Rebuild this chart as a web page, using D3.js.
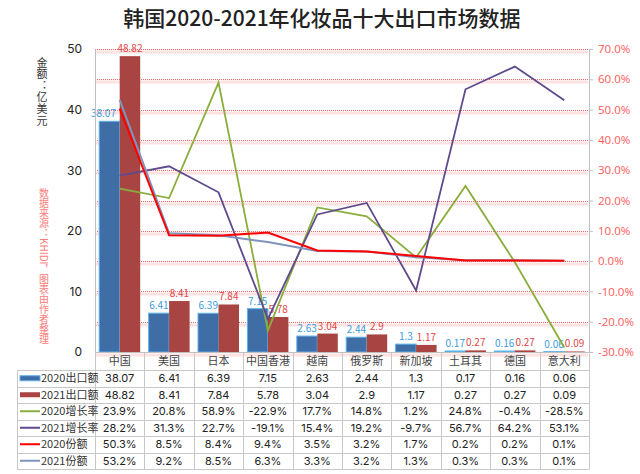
<!DOCTYPE html>
<html><head><meta charset="utf-8">
<script src="https://cdn.jsdelivr.net/npm/d3@7"></script>
<style>body{margin:0;background:#fff;}svg{display:block;font-family:"Noto Sans CJK SC","Noto Sans",sans-serif;}</style>
</head><body>
<svg id="c" width="640" height="474"></svg>
<script>
const categories = ['中国','美国','日本','中国香港','越南','俄罗斯','新加坡','土耳其','德国','意大利'];
const export2020 = [38.07,6.41,6.39,7.15,2.63,2.44,1.3,0.17,0.16,0.06];
const export2021 = [48.82,8.41,7.84,5.78,3.04,2.9,1.17,0.27,0.27,0.09];
const growth2020 = [23.9,20.8,58.9,-22.9,17.7,14.8,1.2,24.8,-0.4,-28.5];
const growth2021 = [28.2,31.3,22.7,-19.1,15.4,19.2,-9.7,56.7,64.2,53.1];
const share2020 = [50.3,8.5,8.4,9.4,3.5,3.2,1.7,0.2,0.2,0.1];
const share2021 = [53.2,9.2,8.5,6.3,3.3,3.2,1.3,0.3,0.3,0.1];
const leftTicks = [0,10,20,30,40,50];
const rightTicks = [-30,-20,-10,0,10,20,30,40,50,60,70];
const seriesNames = ['2020出口额','2021出口额','2020增长率','2021增长率','2020份额','2021份额'];

const svg = d3.select('#c');
const L = 95, R = 589, T = 49, B = 352;
const x = d3.scaleBand().domain(categories).range([L, R]);
const yL = d3.scaleLinear().domain([0, 50]).range([B, T]);
const yR = d3.scaleLinear().domain([-30, 70]).range([B, T]);

// title
svg.append('text').attr('x', 322).attr('y', 26).attr('text-anchor', 'middle')
  .attr('font-size', 21).attr('font-weight', 500).attr('fill', '#222')
  .text('韩国2020-2021年化妆品十大出口市场数据');

// gridlines
const g = svg.append('g');
rightTicks.forEach(v => {
  const yy = Math.round(yR(v)) + 0.5;
  g.append('rect').attr('x', L + 1).attr('y', yy + 1).attr('width', R - L - 2).attr('height', 3).attr('fill', '#fde2e2');
  g.append('line').attr('x1', L).attr('x2', R).attr('y1', yy).attr('y2', yy)
    .attr('stroke', '#f06a6a').attr('stroke-width', 1).attr('stroke-dasharray', '1,1');
});

// bars
const bw = 20.5;
const bars = svg.append('g');
categories.forEach((c, i) => {
  const cx = x(c) + x.bandwidth() / 2;
  bars.append('rect').attr('x', cx - bw).attr('y', yL(export2020[i])).attr('width', bw)
    .attr('height', B - yL(export2020[i])).attr('fill', '#3f6da6').attr('stroke', '#5cb3ea').attr('stroke-width', 1);
  bars.append('rect').attr('x', cx).attr('y', yL(export2021[i])).attr('width', bw)
    .attr('height', B - yL(export2021[i])).attr('fill', '#a84543');
  svg.append('text').attr('x', cx - bw / 2 - (i === 0 ? 6 : 0)).attr('y', yL(export2020[i]) - 4).attr('text-anchor', 'middle')
    .attr('font-size', 10).attr('fill', '#3d9be0').text(export2020[i]);
  svg.append('text').attr('x', cx + bw / 2).attr('y', yL(export2021[i]) - 4).attr('text-anchor', 'middle')
    .attr('font-size', 10).attr('fill', '#e04646').text(export2021[i]);
});

// lines
const lineGen = d3.line().x((d, i) => x(categories[i]) + x.bandwidth() / 2).y(d => yR(d));
const lineSeries = [
  {d: growth2020, c: '#8aae3c', w: 1.8},
  {d: growth2021, c: '#5f4a8e', w: 1.8},
  {d: share2021, c: '#7f93bb', w: 2},
  {d: share2020, c: '#ff0000', w: 2},
];
lineSeries.forEach(s => {
  svg.append('path').attr('d', lineGen(s.d)).attr('fill', 'none').attr('stroke', s.c).attr('stroke-width', s.w);
});

// axes
const axL = svg.append('g').attr('transform', `translate(${L},0)`)
  .call(d3.axisLeft(yL).tickValues(leftTicks).tickSize(0).tickPadding(13));
axL.select('.domain').attr('stroke', '#bfbfbf');
axL.selectAll('text').attr('font-size', 12).attr('fill', '#222').attr('font-family', 'Inter, "Noto Sans", sans-serif');
const axR = svg.append('g').attr('transform', `translate(${R},0)`)
  .call(d3.axisRight(yR).tickValues(rightTicks).tickSize(4).tickPadding(5).tickFormat(d => d.toFixed(1) + '%'));
axR.select('.domain').attr('stroke', '#bfbfbf');
axR.selectAll('.tick line').attr('stroke', '#bfbfbf');
axR.selectAll('text').attr('font-size', 11.5).attr('fill', '#ff5a5a').attr('font-family', '"Open Sans", "Noto Sans", sans-serif');

// vertical labels
svg.append('text').attr('x', 42).attr('y', 57)
  .attr('style', 'writing-mode: vertical-rl; text-orientation: mixed;')
  .attr('font-size', 11).attr('letter-spacing', 0.6).attr('fill', '#333').text('金额：亿美元');
svg.append('text').attr('x', 44).attr('y', 188)
  .attr('style', 'writing-mode: vertical-rl; text-orientation: mixed;')
  .attr('font-size', 10).attr('fill', '#ff7b7b').text('数据来源：KHIDI，图表由作者整理');

// category header row + table
const tb = svg.append('g');
const rowH = 16.5, tTop = 370;
categories.forEach(c => {
  tb.append('text').attr('x', x(c) + x.bandwidth() / 2).attr('y', 365).attr('text-anchor', 'middle')
    .attr('font-size', 11).attr('fill', '#444').text(c);
});
const lineC = '#c8c8c8';
d3.range(11).forEach(i => {
  const xx = Math.round(L + i * x.bandwidth()) + 0.5;
  tb.append('line').attr('x1', xx).attr('x2', xx).attr('y1', B).attr('y2', tTop + 6 * rowH).attr('stroke', lineC);
});
tb.append('line').attr('x1', 17.5).attr('x2', 17.5).attr('y1', tTop).attr('y2', tTop + 6 * rowH).attr('stroke', lineC);
tb.append('line').attr('x1', L).attr('x2', R).attr('y1', B + 0.5).attr('y2', B + 0.5).attr('stroke', '#bfbfbf');
d3.range(7).forEach(j => {
  const yy = Math.round(tTop + j * rowH) + 0.5;
  tb.append('line').attr('x1', 17).attr('x2', R + 0.5).attr('y1', yy).attr('y2', yy).attr('stroke', lineC);
});
const tableData = [
  export2020.map(String), export2021.map(String),
  growth2020.map(v => v.toFixed(1) + '%'), growth2021.map(v => v.toFixed(1) + '%'),
  share2020.map(v => v.toFixed(1) + '%'), share2021.map(v => v.toFixed(1) + '%'),
];
const markers = [
  {t: 'rect', c: '#3f6da6', s: '#5cb3ea'}, {t: 'rect', c: '#a84543'},
  {t: 'line', c: '#8aae3c'}, {t: 'line', c: '#5f4a8e'}, {t: 'line', c: '#ff0000'}, {t: 'line', c: '#7f93bb'},
];
tableData.forEach((row, j) => {
  const cy = tTop + j * rowH + rowH / 2;
  const m = markers[j];
  if (m.t === 'rect') {
    tb.append('rect').attr('x', 20).attr('y', cy - 2.5).attr('width', 20).attr('height', 5).attr('fill', m.c)
      .attr('stroke', m.s || 'none').attr('stroke-width', m.s ? 1 : 0);
  } else {
    tb.append('line').attr('x1', 20).attr('x2', 40).attr('y1', cy).attr('y2', cy).attr('stroke', m.c).attr('stroke-width', 2);
  }
  tb.append('text').attr('x', 41).attr('y', cy + 4).attr('font-size', 11).attr('fill', '#333').text(seriesNames[j]);
  row.forEach((v, i) => {
    tb.append('text').attr('x', x(categories[i]) + x.bandwidth() / 2).attr('y', cy + 4).attr('text-anchor', 'middle')
      .attr('font-size', 11).attr('fill', '#222').attr('font-family', 'Inter, "Noto Sans", sans-serif').text(v);
  });
});
</script>
</body></html>
